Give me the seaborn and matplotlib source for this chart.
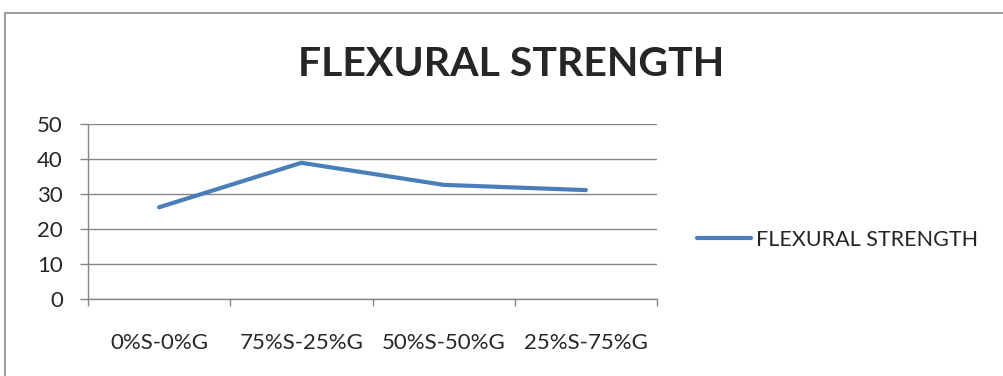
import matplotlib
matplotlib.use("Agg")
import matplotlib.pyplot as plt
from matplotlib.patches import Rectangle
import pandas as pd
import seaborn as sns

# Data
mixes = ["0%S-0%G", "75%S-25%G", "50%S-50%G", "25%S-75%G"]
flexural_strength = [26.3, 39.0, 32.7, 31.2]
series_name = "FLEXURAL STRENGTH"
y_ticks = [0, 10, 20, 30, 40, 50]

df = pd.DataFrame({"mix": mixes, "value": flexural_strength})

sns.set_style("white")
plt.rcParams["font.family"] = ["Lato", "DejaVu Sans"]

W, H = 1004, 376
fig = plt.figure(figsize=(W / 100, H / 100), dpi=100)
fig.patch.set_facecolor("white")

# outer chart frame
fig.add_artist(Rectangle((4.5 / W, -0.1), 1.2, 1.1 - 12.5 / H,
                         transform=fig.transFigure, fill=False,
                         edgecolor="#8c8c8c", linewidth=1.2))

ax = fig.add_axes([88 / W, (H - 299.3) / H, (657 - 88) / W, (299.3 - 124.3) / H])

grid_c = "#868686"
sns.lineplot(data=df, x="mix", y="value", ax=ax, color="#4A7EBB",
             linewidth=3.0, solid_capstyle="round", solid_joinstyle="round",
             label=series_name, legend=False, sort=False)

ax.set_xlim(-0.5, len(mixes) - 0.5)
ax.set_ylim(0, 50)
ax.set_yticks(y_ticks)
ax.set_yticklabels([str(t) for t in y_ticks], fontsize=16)
ax.yaxis.grid(True, color=grid_c, linewidth=1.0)
ax.set_axisbelow(True)

# category boundaries carry tick marks, labels sit at category centres
ax.set_xticks([i - 0.5 for i in range(len(mixes) + 1)])
ax.set_xticklabels([])
ax.set_xticks(range(len(mixes)), minor=True)
ax.set_xticklabels(mixes, minor=True, fontsize=16)
ax.tick_params(axis="x", which="major", direction="out", length=5,
               width=1.0, color=grid_c, bottom=True)
ax.tick_params(axis="x", which="minor", length=0, pad=24)
ax.tick_params(axis="y", direction="out", length=6, width=1.0,
               color=grid_c, left=True, pad=12)

for s in ["top", "right"]:
    ax.spines[s].set_visible(False)
for s in ["left", "bottom"]:
    ax.spines[s].set_color(grid_c)
    ax.spines[s].set_linewidth(1.0)

ax.set_xlabel("")
ax.set_ylabel("")

fig.text(511 / W, 1 - 65 / H, "FLEXURAL STRENGTH", ha="center", va="center",
         fontsize=29.5, fontweight="bold")

handles, labels = ax.get_legend_handles_labels()
fig.legend(handles, labels, loc="center left",
           bbox_to_anchor=(697 / W, 1 - 240 / H), frameon=False,
           fontsize=15.5, handlelength=2.5, handletextpad=0.22, borderpad=0,
           borderaxespad=0)

fig.savefig("out.png", dpi=100, facecolor="white")
